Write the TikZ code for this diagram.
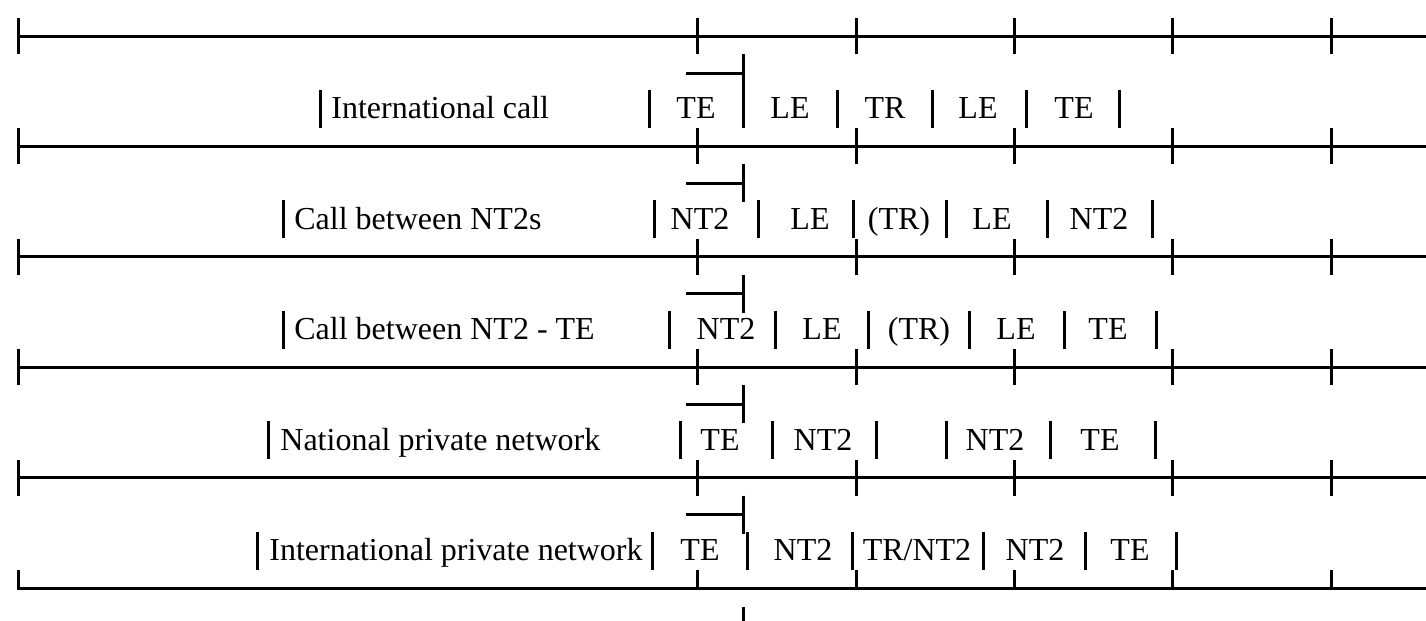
\documentclass[tikz,border=0pt]{standalone}
\usepackage{fontspec}
\setmainfont{Liberation Serif}
\usepackage{tikz}
\usetikzlibrary{calc}
\usetikzlibrary{positioning}

\begin{document}
\begin{tikzpicture}[x=0.5pt,y=-0.5pt,
    rule/.style={line width=1.5pt},
    bar/.style={line width=1.5pt},
    cell/.style={anchor=base,inner sep=0pt,font=\fontsize{16}{19}\selectfont},
    lab/.style={anchor=base west,inner sep=0pt,font=\fontsize{16}{19}\selectfont}]
    \useasboundingbox (0,0) rectangle (1426,621);
    % horizontal rules with their ticks
    \draw[rule] (18,36) -- (1426,36);
    \draw[rule] (18,18) -- (18,54) (697,18) -- (697,54) (856,18) -- (856,54) (1014,18) -- (1014,54) (1172,18) -- (1172,54) (1331,18) -- (1331,54);
    \draw[rule] (18,146.4) -- (1426,146.4);
    \draw[rule] (18,128.4) -- (18,164.4) (697,128.4) -- (697,164.4) (856,128.4) -- (856,164.4) (1014,128.4) -- (1014,164.4) (1172,128.4) -- (1172,164.4) (1331,128.4) -- (1331,164.4);
    \draw[rule] (18,256.8) -- (1426,256.8);
    \draw[rule] (18,238.8) -- (18,274.8) (697,238.8) -- (697,274.8) (856,238.8) -- (856,274.8) (1014,238.8) -- (1014,274.8) (1172,238.8) -- (1172,274.8) (1331,238.8) -- (1331,274.8);
    \draw[rule] (18,367.2) -- (1426,367.2);
    \draw[rule] (18,349.2) -- (18,385.2) (697,349.2) -- (697,385.2) (856,349.2) -- (856,385.2) (1014,349.2) -- (1014,385.2) (1172,349.2) -- (1172,385.2) (1331,349.2) -- (1331,385.2);
    \draw[rule] (18,477.6) -- (1426,477.6);
    \draw[rule] (18,459.6) -- (18,495.6) (697,459.6) -- (697,495.6) (856,459.6) -- (856,495.6) (1014,459.6) -- (1014,495.6) (1172,459.6) -- (1172,495.6) (1331,459.6) -- (1331,495.6);
    \draw[rule] (18,570) -- (18,588) -- (1426,588);
    \draw[rule] (697,570) -- (697,588) (856,570) -- (856,588) (1014,570) -- (1014,588) (1172,570) -- (1172,588) (1331,570) -- (1331,588);
    % small brackets
    \draw[rule] (686,73) -- (743,73) (743,54) -- (743,92);
    \draw[rule] (686,183.4) -- (743,183.4) (743,164.4) -- (743,202.4);
    \draw[rule] (686,293.8) -- (743,293.8) (743,274.8) -- (743,312.8);
    \draw[rule] (686,404.2) -- (743,404.2) (743,385.2) -- (743,423.2);
    \draw[rule] (686,514.6) -- (743,514.6) (743,495.6) -- (743,533.6);
    \draw[rule] (743,607) -- (743,621);
    % row 1
    \draw[bar] (320,90) -- (320,128) (649,90) -- (649,128) (743,90) -- (743,128) (837,90) -- (837,128) (932,90) -- (932,128) (1026,90) -- (1026,128) (1119,90) -- (1119,128);
    \node[lab] (A0) at (331,119) {International call};
    \node[cell] (A1) at (696,119) {TE};
    \node[cell] (A2) at (790,119) {LE};
    \node[cell] (A3) at (885,119) {TR};
    \node[cell] (A4) at (978,119) {LE};
    \node[cell] (A5) at (1074,119) {TE};
    % row 2
    \draw[bar] (283,200.4) -- (283,238.4) (654,200.4) -- (654,238.4) (758,200.4) -- (758,238.4) (853,200.4) -- (853,238.4) (946,200.4) -- (946,238.4) (1047,200.4) -- (1047,238.4) (1152,200.4) -- (1152,238.4);
    \node[lab] (B0) at (294,229.4) {Call between NT2s};
    \node[cell] (B1) at (700,229.4) {NT2};
    \node[cell] (B2) at (810,229.4) {LE};
    \node[cell] (B3) at (899,229.4) {(TR)};
    \node[cell] (B4) at (992,229.4) {LE};
    \node[cell] (B5) at (1099,229.4) {NT2};
    % row 3
    \draw[bar] (283,310.8) -- (283,348.8) (669,310.8) -- (669,348.8) (775,310.8) -- (775,348.8) (868,310.8) -- (868,348.8) (969,310.8) -- (969,348.8) (1064,310.8) -- (1064,348.8) (1156,310.8) -- (1156,348.8);
    \node[lab] (C0) at (294,339.8) {Call between NT2 - TE};
    \node[cell] (C1) at (726,339.8) {NT2};
    \node[cell] (C2) at (822,339.8) {LE};
    \node[cell] (C3) at (919,339.8) {(TR)};
    \node[cell] (C4) at (1016,339.8) {LE};
    \node[cell] (C5) at (1108,339.8) {TE};
    % row 4
    \draw[bar] (268,421.2) -- (268,459.2) (680,421.2) -- (680,459.2) (772,421.2) -- (772,459.2) (876,421.2) -- (876,459.2) (946,421.2) -- (946,459.2) (1050,421.2) -- (1050,459.2) (1155,421.2) -- (1155,459.2);
    \node[lab] (D0) at (280,450.2) {National private network};
    \node[cell] (D1) at (720,450.2) {TE};
    \node[cell] (D2) at (823,450.2) {NT2};
    \node[cell] (D4) at (995,450.2) {NT2};
    \node[cell] (D5) at (1100,450.2) {TE};
    % row 5
    \draw[bar] (257,531.6) -- (257,569.6) (652,531.6) -- (652,569.6) (747,531.6) -- (747,569.6) (852,531.6) -- (852,569.6) (983,531.6) -- (983,569.6) (1085,531.6) -- (1085,569.6) (1176,531.6) -- (1176,569.6);
    \node[lab] (E0) at (269,560.6) {International private network};
    \node[cell] (E1) at (700,560.6) {TE};
    \node[cell] (E2) at (803,560.6) {NT2};
    \node[cell] (E3) at (917,560.6) {TR/NT2};
    \node[cell] (E4) at (1035,560.6) {NT2};
    \node[cell] (E5) at (1130,560.6) {TE};
  \end{tikzpicture}
\end{document}
